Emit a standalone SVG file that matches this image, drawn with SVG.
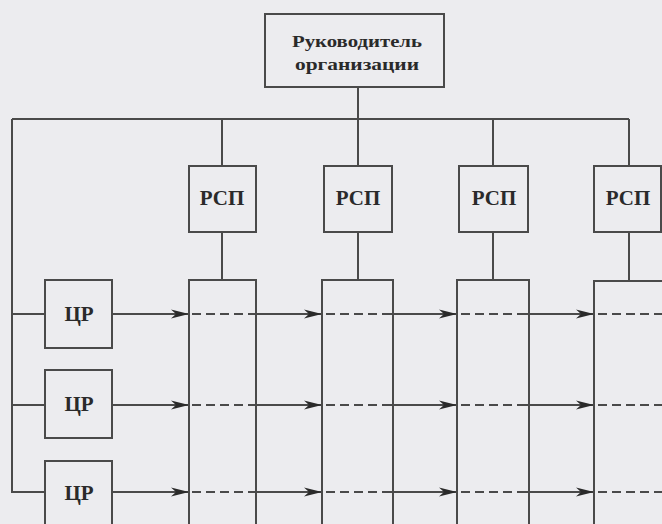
<svg xmlns="http://www.w3.org/2000/svg" width="662" height="524" viewBox="0 0 662 524">
<defs>
<style>
.ln{stroke:#4a4a4a;stroke-width:2;fill:none}
.bx{stroke:#4a4a4a;stroke-width:2;fill:none}
.ds{stroke:#4a4a4a;stroke-width:2;fill:none;stroke-dasharray:9 5}
.t{font-family:"Liberation Serif","Times New Roman",serif;font-weight:bold;fill:#2a2a2a;text-anchor:middle}
</style>
<marker id="ah" viewBox="0 0 18 10" refX="18" refY="5" markerWidth="18" markerHeight="10" markerUnits="userSpaceOnUse" orient="auto">
<path d="M0,0.5 L18,5 L0,9.5 L5,5 z" fill="#2a2a2a"/>
</marker>
</defs>
<rect width="662" height="524" fill="#ececef"/>
<g id="connectors">
<path class="ln" d="M358,87 V166"/>
<path class="ln" d="M12,119 H629"/>
<path class="ln" d="M222,119 V166 M493,119 V166 M629,119 V166"/>
<path class="ln" d="M222,232 V280 M358,232 V280 M493,232 V280 M629,232 V281"/>
<path class="ln" d="M12,119 V492 H45 M12,314 H45 M12,405 H45"/>
<g id="row1">
<path class="ln" d="M112,314 H189" marker-end="url(#ah)"/>
<path class="ds" d="M192,314 H252"/>
<path class="ln" d="M251,314 H322" marker-end="url(#ah)"/>
<path class="ds" d="M326,314 H386"/>
<path class="ln" d="M386,314 H457" marker-end="url(#ah)"/>
<path class="ds" d="M461,314 H522"/>
<path class="ln" d="M522,314 H594" marker-end="url(#ah)"/>
<path class="ds" d="M598,314 H662"/>
</g>
<g id="row2">
<path class="ln" d="M112,405 H189" marker-end="url(#ah)"/>
<path class="ds" d="M192,405 H252"/>
<path class="ln" d="M251,405 H322" marker-end="url(#ah)"/>
<path class="ds" d="M326,405 H386"/>
<path class="ln" d="M386,405 H457" marker-end="url(#ah)"/>
<path class="ds" d="M461,405 H522"/>
<path class="ln" d="M522,405 H594" marker-end="url(#ah)"/>
<path class="ds" d="M598,405 H662"/>
</g>
<g id="row3">
<path class="ln" d="M112,492 H189" marker-end="url(#ah)"/>
<path class="ds" d="M192,492 H252"/>
<path class="ln" d="M251,492 H322" marker-end="url(#ah)"/>
<path class="ds" d="M326,492 H386"/>
<path class="ln" d="M386,492 H457" marker-end="url(#ah)"/>
<path class="ds" d="M461,492 H522"/>
<path class="ln" d="M522,492 H594" marker-end="url(#ah)"/>
<path class="ds" d="M598,492 H662"/>
</g>
</g>
<g id="head">
<rect class="bx" x="265" y="14" width="179" height="73"/>
<text class="t" x="357" y="47" font-size="17" textLength="130" lengthAdjust="spacingAndGlyphs">Руководитель</text>
<text class="t" x="357" y="70" font-size="17" textLength="124" lengthAdjust="spacingAndGlyphs">организации</text>
</g>
<g id="rsp1">
<rect class="bx" x="189" y="166" width="67" height="66"/>
<text class="t" x="222" y="205" font-size="21">РСП</text>
</g>
<g id="rsp2">
<rect class="bx" x="324" y="166" width="68" height="66"/>
<text class="t" x="358" y="205" font-size="21">РСП</text>
</g>
<g id="rsp3">
<rect class="bx" x="459" y="166" width="69" height="66"/>
<text class="t" x="494" y="205" font-size="21">РСП</text>
</g>
<g id="rsp4">
<rect class="bx" x="594" y="166" width="67" height="66"/>
<text class="t" x="628" y="205" font-size="21">РСП</text>
</g>
<g id="col1"><rect class="bx" x="189" y="280" width="67" height="260"/></g>
<g id="col2"><rect class="bx" x="322" y="280" width="71" height="260"/></g>
<g id="col3"><rect class="bx" x="457" y="280" width="72" height="260"/></g>
<g id="col4"><rect class="bx" x="594" y="281" width="80" height="260"/></g>
<g id="cr1">
<rect class="bx" x="45" y="280" width="67" height="68"/>
<text class="t" x="79" y="321" font-size="21">ЦР</text>
</g>
<g id="cr2">
<rect class="bx" x="45" y="370" width="67" height="68"/>
<text class="t" x="79" y="411" font-size="21">ЦР</text>
</g>
<g id="cr3">
<rect class="bx" x="45" y="461" width="67" height="70"/>
<text class="t" x="79" y="500" font-size="21">ЦР</text>
</g>
</svg>
